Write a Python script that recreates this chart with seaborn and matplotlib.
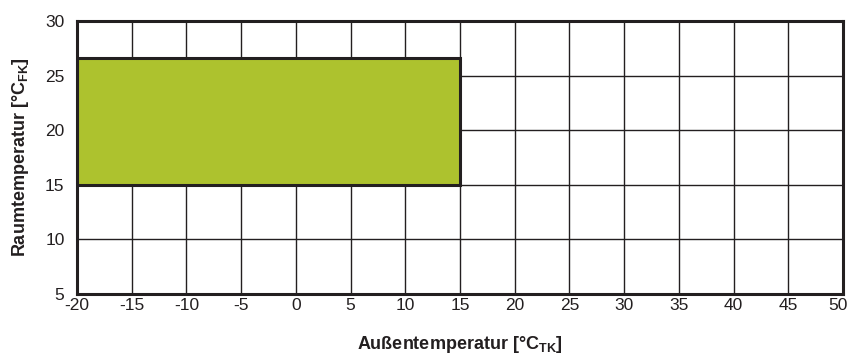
import matplotlib
matplotlib.use('Agg')
import matplotlib.pyplot as plt
import matplotlib.transforms as mtransforms
import seaborn as sns
from matplotlib.patches import Rectangle

# Data
x_ticks = [-20, -15, -10, -5, 0, 5, 10, 15, 20, 25, 30, 35, 40, 45, 50]
y_ticks = [5, 10, 15, 20, 25, 30]
region_x = [-20, 15]      # Außentemperatur range
region_y = [15, 26.6]     # Raumtemperatur range

sns.set_style('white')
plt.rcParams['font.family'] = ['Liberation Sans', 'DejaVu Sans']
plt.rcParams['axes.unicode_minus'] = False
plt.rcParams['mathtext.fontset'] = 'custom'
plt.rcParams['mathtext.rm'] = 'Liberation Sans'
plt.rcParams['mathtext.bf'] = 'Liberation Sans:bold'

fig = plt.figure(figsize=(8.51, 3.6), dpi=100)
ax = fig.add_axes([0.0905, 0.1833, 0.9001, 0.7584])

ax.add_patch(Rectangle((region_x[0], region_y[0]), region_x[1] - region_x[0],
                       region_y[1] - region_y[0], facecolor='#adc22e',
                       edgecolor='#231f20', linewidth=2.2, zorder=3))

ax.set_xlim(x_ticks[0], x_ticks[-1])
ax.set_ylim(y_ticks[0], y_ticks[-1])
ax.set_xticks(x_ticks)
ax.set_yticks(y_ticks)
ax.set_xticklabels([str(v) for v in x_ticks])
ax.set_yticklabels([str(v) for v in y_ticks])
ax.grid(True, color='#231f20', linewidth=1.0, zorder=0)
ax.set_axisbelow(True)
ax.tick_params(axis='both', length=0, labelsize=12.5, colors='#231f20')
ax.tick_params(axis='x', pad=3)
ax.tick_params(axis='y', pad=9)
for s in ax.spines.values():
    s.set_color('#231f20')
    s.set_linewidth(2.2)
    s.set_zorder(4)

# nudge the last x label inward so it stays inside the canvas
last = ax.get_xticklabels()[-1]
last.set_transform(last.get_transform() +
                   mtransforms.ScaledTranslation(-5 / 100, 0, fig.dpi_scale_trans))

ax.set_xlabel('Außentemperatur [°C$_{\\mathbf{TK}}$]', fontsize=13, fontweight='bold',
              labelpad=15, color='#231f20')
ax.set_ylabel('Raumtemperatur [°C$_{\\mathbf{FK}}$]', fontsize=13, fontweight='bold',
              labelpad=10, color='#231f20')

fig.savefig('out.png', dpi=100)
